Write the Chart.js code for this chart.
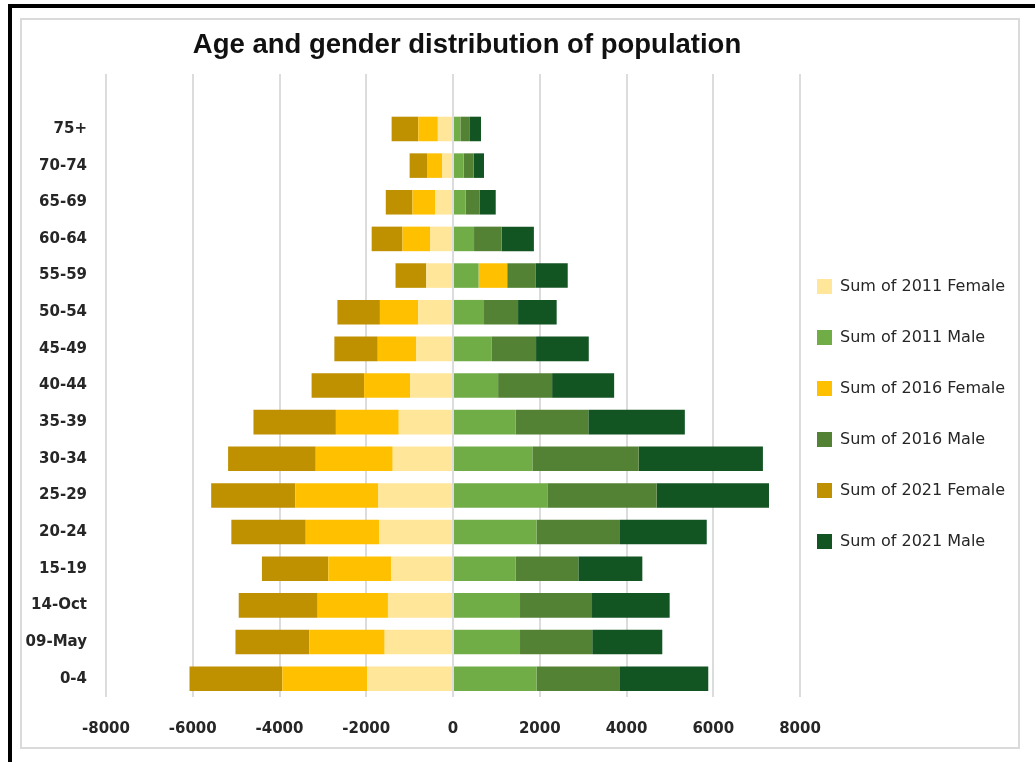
<!DOCTYPE html>
<html>
<head>
<meta charset="utf-8">
<title>Age and gender distribution of population</title>
<script src="https://cdn.jsdelivr.net/npm/chart.js@4.4.1/dist/chart.umd.min.js"></script>
<style>
  html, body { margin: 0; padding: 0; background: #fff; }
  body { width: 1035px; height: 762px; position: relative; overflow: hidden; }
  .edge-top { position: absolute; left: 8px; top: 4px; width: 1027px; height: 4px; background: #000; }
  .edge-left { position: absolute; left: 8px; top: 4px; width: 4px; height: 758px; background: #000; }
  .frame { position: absolute; left: 20px; top: 18px; width: 996px; height: 727px; border: 2px solid #dadada; }
  .frame canvas { position: absolute; left: 0; top: 0; }
</style>
</head>
<body>
<div class="edge-top"></div>
<div class="edge-left"></div>
<div class="frame">
  <canvas id="pyramid" width="996" height="727"></canvas>
</div>
<script>
// age groups, top to bottom (first row is the empty pivot row)
const ageGroups = ['', '75+', '70-74', '65-69', '60-64', '55-59', '50-54', '45-49', '40-44',
  '35-39', '30-34', '25-29', '20-24', '15-19', '14-Oct', '09-May', '0-4'];

// females are plotted on the negative side
const female2011 = [null, -350, -245, -415, -530, -615, -800, -845, -990,
  -1250, -1390, -1720, -1705, -1430, -1500, -1575, -1975];
const male2011 = [null, 170, 245, 290, 485, 590, 715, 885, 1040,
  1445, 1830, 2175, 1925, 1445, 1545, 1545, 1925];
const female2016 = [null, -450, -355, -520, -635, 660, -885, -890, -1060,
  -1450, -1775, -1915, -1690, -1445, -1620, -1735, -1960];
const male2016 = [null, 220, 230, 320, 635, 660, 785, 1030, 1245,
  1675, 2450, 2520, 1925, 1445, 1660, 1665, 1925];
const female2021 = [null, -615, -400, -615, -710, -710, -980, -1000, -1210,
  -1900, -2020, -1940, -1715, -1530, -1820, -1705, -2140];
const male2021 = [null, 255, 240, 375, 745, 735, 890, 1215, 1430,
  2225, 2865, 2590, 2000, 1475, 1790, 1615, 2035];

const xTicks = [-8000, -6000, -4000, -2000, 0, 2000, 4000, 6000, 8000];

const textColor = '#262626';

function series(label, data, color) {
  return {
    label: label,
    data: data,
    backgroundColor: color,
    borderColor: color,
    borderWidth: 0,
  };
}

// put the legend next to the plot and move the title a little, like the Excel layout
const placeBoxes = {
  id: 'placeBoxes',
  afterLayout(chart) {
    const lg = chart.legend;
    lg.left = chart.chartArea.right + 17 - lg.options.labels.padding;
    lg.top += 37;
    lg.bottom += 37;
    chart.titleBlock.left += 14;
    chart.titleBlock.right += 14;
  }
};

const pyramid = new Chart(document.getElementById('pyramid'), {
  type: 'bar',
  data: {
    labels: ageGroups,
    datasets: [
      series('Sum of 2011 Female', female2011, '#ffe699'),
      series('Sum of 2011 Male', male2011, '#70ad47'),
      series('Sum of 2016 Female', female2016, '#ffc000'),
      series('Sum of 2016 Male', male2016, '#548235'),
      series('Sum of 2021 Female', female2021, '#bf9000'),
      series('Sum of 2021 Male', male2021, '#135423'),
    ],
  },
  options: {
    indexAxis: 'y',
    responsive: false,
    animation: false,
    categoryPercentage: 1,
    barPercentage: 0.67,
    layout: { padding: { left: 3, right: 0, top: 0, bottom: 13 } },
    scales: {
      x: {
        stacked: true,
        min: xTicks[0],
        max: xTicks[xTicks.length - 1],
        border: { display: false },
        grid: { color: '#dcdcdc', lineWidth: 2, drawTicks: false },
        ticks: {
          stepSize: xTicks[1] - xTicks[0],
          padding: 23,
          color: textColor,
          font: { family: 'DejaVu Sans', size: 15, weight: 'bold' },
          callback: value => String(value),
        },
        afterFit: axis => { axis.height = 37; },
      },
      y: {
        stacked: true,
        border: { display: false },
        grid: { display: false, drawTicks: false },
        ticks: {
          padding: 19,
          autoSkip: false,
          color: textColor,
          font: { family: 'DejaVu Sans', size: 15, weight: 'bold' },
        },
        afterFit: axis => { axis.width = 81; },
      },
    },
    plugins: {
      title: {
        display: true,
        fullSize: false,
        text: 'Age and gender distribution of population',
        color: '#111',
        font: { family: 'Liberation Sans', size: 27.5, weight: 'bold' },
        padding: { top: 9, bottom: 12 },
      },
      legend: {
        position: 'right',
        maxWidth: 218,
        labels: {
          boxWidth: 15,
          boxHeight: 15,
          padding: 35,
          color: textColor,
          font: { family: 'DejaVu Sans', size: 16 },
        },
      },
      tooltip: { enabled: false },
    },
  },
  plugins: [placeBoxes],
});
</script>
</body>
</html>
